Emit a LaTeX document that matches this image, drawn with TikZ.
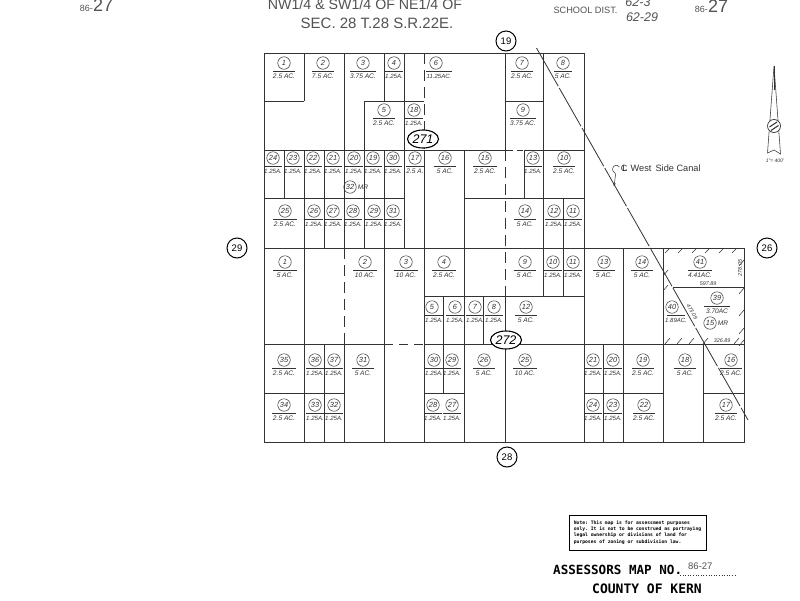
\documentclass[tikz,border=0pt]{standalone}
\usepackage{fontspec}
\setmainfont{Liberation Sans}
\setmonofont{DejaVu Sans Mono}
\usetikzlibrary{arrows.meta,shapes.geometric}
\definecolor{ink}{gray}{0.2}
\tikzset{
  lot/.style={draw=ink,line width=0.8pt},
  lotdash/.style={lot,dash pattern=on 11pt off 6pt},
  numcirc/.style={circle,draw=ink,line width=0.5pt,minimum size=12.5pt,inner sep=0pt,font=\itshape\fontsize{7.4}{8}\selectfont,text=ink},
  secbig/.style={circle,draw=black,line width=1pt,minimum size=20pt,inner sep=0pt,font=\fontsize{9.5}{10}\selectfont},
  mapnum/.style={ellipse,draw=black,line width=1.1pt,minimum width=31pt,minimum height=18pt,inner sep=0pt,font=\itshape\fontsize{12.5}{13}\selectfont},
  area/.style={inner sep=0pt,font=\itshape\fontsize{6.6}{7}\selectfont,text=ink},
  tiny/.style={inner sep=0pt,font=\itshape\fontsize{5.4}{6}\selectfont,text=ink},
  title/.style={inner sep=0pt,text=ink!85!white},
  gothic/.style={inner sep=0pt,font=\ttfamily\bfseries\fontsize{12.6}{13}\selectfont},
}
\newcommand\sm{{\fontsize{6.1}{7}\selectfont 1.25A.}}
% [half width of the rule]{x}{y}{number}{area}
\newcommand\parcel[5][9]{%
  \node[numcirc] (p#2-#3) at (#2,#3) {#4};
  \draw[draw=ink,line width=0.55pt] (#2-#1,#3+8) -- (#2+#1,#3+8);
  \node[area] (a#2-#3) at (#2,#3+13.5) {#5};
}
% same, with the rule and the area moved sideways by #2
\newcommand\parcelx[6][9]{%
  \node[numcirc] (p#3-#4) at (#3,#4) {#5};
  \draw[draw=ink,line width=0.55pt] (#3+#2-#1,#4+8) -- (#3+#2+#1,#4+8);
  \node[area,font=\itshape\fontsize{6}{7}\selectfont] (a#3-#4) at (#3+#2,#4+13.5) {#6};
}
\begin{document}
\begin{tikzpicture}[x=1pt,y=-1pt]
\useasboundingbox (0,0) rectangle (800,600);
\fill[white] (0,0) rectangle (800,600);

% ---- outer and grid lines, north block
\draw[lot,line width=1pt] (584,248) -- (584,53) -- (264,53) -- (264,442) -- (744,442) -- (744,248) -- (264,248);
\draw[lot] (264,101) -- (304,101) (304,53) -- (304,101);
\draw[lot] (344,53) -- (344,248);
\draw[lot] (384,53) -- (384,101);
\draw[lot] (404,53) -- (404,248);
\draw[lot] (364,101) -- (424,101) (364,101) -- (364,248);
\draw[lotdash] (424,53) -- (424,150);
\draw[lot] (424,150) -- (424,248);
\draw[lot] (505,53) -- (505,150) (505,101) -- (543,101) (543,53) -- (543,248);
\draw[lot] (264,150) -- (507,150) (524,150) -- (584,150);
\draw[lot,dash pattern=on 6pt off 4pt] (507,150) -- (524,150);
\draw[lot] (264,198) -- (404,198) (464,198) -- (584,198);
\draw[lot] (284,150) -- (284,198) (304,150) -- (304,248) (324,150) -- (324,248) (384,150) -- (384,248) (464,150) -- (464,248);
\draw[lotdash] (505,150) -- (505,296);
\draw[lot] (524,150) -- (524,198) (563,198) -- (563,248);

% ---- south block
\draw[lot] (304,248) -- (304,442) (384,248) -- (384,442) (424,248) -- (424,442) (464,248) -- (464,442);
\draw[lotdash] (344,248) -- (344,344);
\draw[lot] (344,344) -- (344,442);
\draw[lot] (505,296) -- (505,442);
\draw[lot] (424,296) -- (584,296) (443,296) -- (443,393) (483,296) -- (483,344);
\draw[lot] (543,248) -- (543,296) (563,248) -- (563,296) (584,248) -- (584,442);
\draw[lot] (623,248) -- (623,442) (663,248) -- (663,442) (603,344) -- (603,442) (703,344) -- (703,442);
\draw[lot] (324,344) -- (324,442);
\draw[lot] (264,344) -- (384,344) (424,344) -- (744,344);
\draw[lot,dash pattern=on 9pt off 6pt] (384,344) -- (424,344);
\draw[lot] (264,393) -- (344,393) (424,393) -- (464,393) (584,393) -- (663,393) (703,393) -- (744,393);
\draw[lot] (673,287) -- (744,287);

% ---- canal
\draw[draw=ink,line width=0.8pt,dash pattern=on 44pt off 2pt] (536.5,48) -- (748,420);

% ---- hatch ticks
\foreach \tx in {668,681,695,708,722,735}{\draw[draw=ink,line width=0.55pt] (\tx-3,253) -- (\tx+2,248);}
\foreach \ty in {262,290,312,330,342}{\draw[draw=ink,line width=0.55pt] (739,\ty+4) -- (744,\ty-2);}
\foreach \ty in {272,287}{\draw[draw=ink,line width=0.55pt] (663,\ty+4) -- (668,\ty-2);}
\foreach \tx in {668,680,692,706,737}{\draw[draw=ink,line width=0.55pt] (\tx-3,344) -- (\tx+2,338);}

% ---- parcels, map 271
\parcel[11]{284}{63}{1}{2.5 AC.}
\parcel[11]{323}{63}{2}{7.5 AC.}
\parcel[13]{363}{63}{3}{3.75 AC.}
\parcel{394}{63}{4}{\sm}
\parcel[11]{384}{110}{5}{2.5 AC.}
\parcel{414}{110}{18}{\sm}
\parcelx[13]{3}{436}{63}{6}{11.25AC.}
\parcel[11]{522}{63}{7}{2.5 AC.}
\parcel{563}{63}{8}{5 AC.}
\parcel[13]{523}{110}{9}{3.75 AC.}
\parcel{273}{158}{24}{\sm}
\parcel{293}{158}{23}{\sm}
\parcel{313}{158}{22}{\sm}
\parcel{333}{158}{21}{\sm}
\parcel{354}{158}{20}{\sm}
\parcel{373}{158}{19}{\sm}
\parcel{393}{158}{30}{\sm}
\parcel{415}{158}{17}{2.5 A.}
\parcel[11]{445}{158}{16}{5 AC.}
\parcel[12]{485}{158}{15}{2.5 AC.}
\parcel{533}{158}{13}{\sm}
\parcel[11]{564}{158}{10}{2.5 AC.}
\node[numcirc] (mr32) at (350,187) {32};
\node[area] (mr32t) at (363,187) {MR};
\parcel[12]{285}{211}{25}{2.5 AC.}
\parcel{314}{211}{26}{\sm}
\parcel{333}{211}{27}{\sm}
\parcel{353}{211}{28}{\sm}
\parcel{374}{211}{29}{\sm}
\parcel{393}{211}{31}{\sm}
\parcel[11]{525}{211}{14}{5 AC.}
\parcel{554}{211}{12}{\sm}
\parcel{573}{211}{11}{\sm}

% ---- parcels, map 272
\parcel[12]{285}{262}{1}{5 AC.}
\parcel[12]{365}{262}{2}{10 AC.}
\parcel[12]{406}{262}{3}{10 AC.}
\parcel[12]{444}{262}{4}{2.5 AC.}
\parcelx{2}{432}{307}{5}{\sm}
\parcel{455}{307}{6}{\sm}
\parcel{475}{307}{7}{\sm}
\parcel{494}{307}{8}{\sm}
\parcel[11]{526}{307}{12}{5 AC.}
\parcel[11]{525}{262}{9}{5 AC.}
\parcel{553}{262}{10}{\sm}
\parcel{573}{262}{11}{\sm}
\parcel[11]{604}{262}{13}{5 AC.}
\parcel[11]{642}{262}{14}{5 AC.}
\parcel[12]{700}{262}{41}{4.41AC.}
\parcel[13]{717}{298}{39}{3.70AC}
\node[numcirc] (mr15) at (710,323) {15};
\node[area] (mr15t) at (723,323.5) {MR};
\parcelx[9]{4}{672}{307}{40}{1.89AC.}
\parcel[12]{284}{360}{35}{2.5 AC.}
\parcel{315}{360}{36}{\sm}
\parcel{334}{360}{37}{\sm}
\parcel[11]{363}{360}{31}{5 AC.}
\parcel{434}{360}{30}{\sm}
\parcel{452}{360}{29}{\sm}
\parcel[11]{484}{360}{26}{5 AC.}
\parcel[12]{525}{360}{25}{10 AC.}
\parcel{593}{360}{21}{\sm}
\parcel{613}{360}{20}{\sm}
\parcel[11]{643}{360}{19}{2.5 AC.}
\parcel[11]{685}{360}{18}{5 AC.}
\parcel[11]{731}{360}{16}{2.5 AC.}
\parcel[12]{284}{405}{34}{2.5 AC.}
\parcel{315}{405}{33}{\sm}
\parcel{334}{405}{32}{\sm}
\parcel{433}{405}{28}{\sm}
\parcel{452}{405}{27}{\sm}
\parcel{593}{405}{24}{\sm}
\parcel{613}{405}{23}{\sm}
\parcel[11]{644}{405}{22}{2.5 AC.}
\parcel[11]{726}{405}{17}{2.5 AC.}

% ---- dimensions
\node[tiny] (d1) at (708,284) {597.89};
\node[tiny] (d2) at (722,341) {326.89};
\node[tiny,rotate=90] (d3) at (740,268) {278.05};
\node[tiny,rotate=-60] (d4) at (692,312) {473.09};

% ---- map numbers and section circles
\node[mapnum,fill=white] (m271) at (423,139) {271};
\node[mapnum,fill=white] (m272) at (506,340) {272};
\node[secbig,fill=white] (s19) at (506,41) {19};
\node[secbig,fill=white] (s29) at (237,248) {29};
\node[secbig,fill=white] (s26) at (767,248) {26};
\node[secbig,fill=white] (s28) at (507,457) {28};

% ---- canal label
\node[inner sep=0pt,text=ink,font=\fontsize{9}{10}\selectfont] (clsym) at (624,168) {\rlap{\hspace{1.6pt}L}C};
\node[inner sep=0pt,anchor=west,text=ink,font=\fontsize{9.2}{10}\selectfont] (canal) at (630.5,168) {West\, Side Canal};
\coordinate (lead) at (614,186.5);
\draw[draw=ink,line width=0.5pt,-{Stealth[length=3.5pt,width=2.5pt]}]
  (619.5,167) .. controls (617,164) and (613,165) .. (612.5,169)
  .. controls (612,172) and (616,172) .. (615.5,175)
  -- (lead);

% ---- north arrow
\coordinate (napex) at (774,66);
\draw[draw=ink,line width=0.55pt] (napex) -- (767.5,153) -- (774,150) -- (780.5,154) -- cycle;
\draw[draw=ink,line width=0.55pt] (774,66) -- (774,90);
\node[circle,draw=ink,fill=white,line width=0.7pt,minimum size=13pt,inner sep=0pt] (nc) at (774,126) {};
\draw[draw=ink,line width=1pt] (769.5,127) -- (777,122) (771,130.5) -- (778.5,125.5);
\node[tiny,font=\itshape\fontsize{5}{6}\selectfont] (nscale) at (775,161) {1"= 400'};

% ---- header
\node[title,font=\fontsize{14.2}{15}\selectfont] (t1) at (365,4) {NW1/4 \& SW1/4 OF NE1/4 OF};
\node[title,font=\fontsize{15}{16}\selectfont] (t2) at (377,23.5) {SEC. 28 T.28 S.R.22E.};
\node[title,font=\fontsize{9.2}{10}\selectfont] (sd) at (585.5,10) {SCHOOL DIST.};
\node[title,font=\itshape\fontsize{12.5}{13}\selectfont] (sd1) at (638,2) {62-3};
\node[title,font=\itshape\fontsize{12.5}{13}\selectfont] (sd2) at (642,17) {62-29};
\node[title,font=\fontsize{9}{10}\selectfont,anchor=east] (r1) at (708,9.5) {86-};
\node[title,font=\fontsize{18}{19}\selectfont,anchor=west] (r2) at (708,6.5) {27};
\node[title,font=\fontsize{9}{10}\selectfont,anchor=east] (l1) at (93,8.5) {86-};
\node[title,font=\fontsize{18}{19}\selectfont,anchor=west] (l2) at (93,5.5) {27};

% ---- note and title block
\node[draw=black,line width=0.9pt,minimum width=137pt,minimum height=35pt,inner sep=0pt,
  align=left,font=\ttfamily\bfseries\fontsize{4.7}{6.1}\selectfont] (note) at (637.5,532.5)
  {Note: This map is for assessment purposes\\only. It is not to be construed as portraying\\legal ownership or divisions of land for\\purposes of zoning or subdivision law.};
\node[gothic,anchor=west] (amap) at (553,570) {ASSESSORS MAP NO.};
\node[title,anchor=west,font=\fontsize{9.5}{10}\selectfont] (mapno) at (688,566) {86-27};
\coordinate (dotsa) at (680,575);
\coordinate (dotsb) at (737,575);
\draw[draw=ink,line width=0.6pt,dash pattern=on 1pt off 1.6pt] (dotsa) -- (dotsb);
\node[gothic,anchor=west,font=\ttfamily\bfseries\fontsize{13}{14}\selectfont] (kern) at (592,589) {COUNTY OF KERN};
\end{tikzpicture}
\end{document}
